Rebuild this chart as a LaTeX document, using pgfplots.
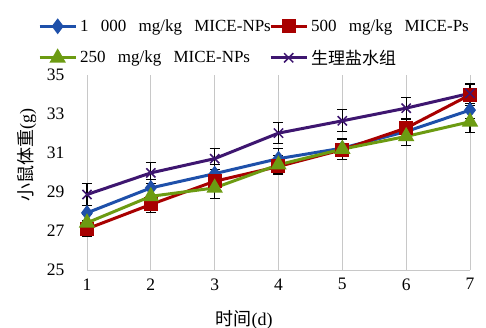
\documentclass[border=0pt]{standalone}
\usepackage{fontspec}
\setmainfont{Liberation Serif}
\newfontfamily\cjk{Noto Sans CJK SC}
\usepackage{pgfplots}
\pgfplotsset{compat=1.18}
\definecolor{cblue}{RGB}{30,80,170}
\definecolor{cred}{RGB}{168,0,0}
\definecolor{cgreen}{RGB}{108,155,18}
\definecolor{cpurple}{RGB}{62,22,112}
\definecolor{cgrid}{RGB}{200,200,200}
\newcommand{\wsp}{\hspace{0.72em}}
\begin{document}
\begin{tikzpicture}
\path[use as bounding box] (-87bp,-58bp) rectangle (399bp,270bp);
\begin{axis}[
  at={(0,0)}, anchor=south west,
  scale only axis, width=383bp, height=195bp,
  xmin=1, xmax=7, ymin=25, ymax=35,
  xtick={1,...,7}, ytick={25,27,...,35},
  axis x line*=bottom, axis y line*=left,
  x axis line style={draw=cgrid, thick, -},
  y axis line style={draw=none},
  xmajorgrids, grid style={cgrid, thick},
  major tick length=0pt,
  clip=false,
  tick label style={font=\fontsize{17.5bp}{20bp}\selectfont},
  yticklabel style={xshift=-19bp},
  xticklabel style={yshift=-5bp},
  /pgf/number format/assume math mode=true,
  xlabel={\cjk 时间\rmfamily(d)},
  xlabel style={font=\fontsize{18bp}{20bp}\selectfont, at={(axis description cs:0.41,0)}, anchor=north, yshift=-37bp},
  ylabel={\cjk 小鼠体重\rmfamily(g)},
  ylabel style={font=\fontsize{18bp}{20bp}\selectfont, at={(axis description cs:-0.157,0.59)}, anchor=center, rotate=0},
  legend columns=2,
  legend style={draw=none, fill=none, anchor=north west, at={(-0.128,1.295)}, inner sep=0pt,
    font=\fontsize{17bp}{20bp}\selectfont, row sep=13bp,
    nodes={text width=186bp, align=left, inner xsep=3bp}},
  legend image code/.code={
    \draw[#1, line width=3bp] (0bp,0bp) -- (36bp,0bp);
    \draw[#1, only marks] plot coordinates {(18bp,0bp)};
  },
  every axis plot/.append style={line width=3bp},
  error bars/error bar style={black, line width=1.1bp, solid},
  error bars/error mark options={rotate=90, mark size=5bp, line width=1.1bp, black},
]
\addplot[cblue, mark=diamond*, mark size=5.5bp, mark options={solid}, error bars/.cd, y dir=both, y explicit]
table[x=x, y=y, y error=e] {
x y e
1 27.93 0.40
2 29.21 0.45
3 29.94 0.45
4 30.71 0.50
5 31.25 0.45
6 32.10 0.45
7 33.20 0.45
};
\addplot[cred, mark=square*, mark size=5.5bp, mark options={solid}, error bars/.cd, y dir=both, y explicit]
table[x=x, y=y, y error=e] {
x y e
1 27.11 0.37
2 28.36 0.40
3 29.55 0.45
4 30.31 0.40
5 31.17 0.50
6 32.28 0.45
7 33.98 0.55
};
\addplot[cgreen, mark=triangle*, mark size=6.5bp, mark options={solid}, error bars/.cd, y dir=both, y explicit]
table[x=x, y=y, y error=e] {
x y e
1 27.42 0.45
2 28.78 0.50
3 29.21 0.56
4 30.40 0.45
5 31.20 0.55
6 31.85 0.45
7 32.60 0.55
};
\addplot[cpurple, mark=x, mark size=6.5bp, mark options={solid, line width=1.5bp}, error bars/.cd, y dir=both, y explicit]
table[x=x, y=y, y error=e] {
x y e
1 28.87 0.56
2 29.98 0.55
3 30.71 0.54
4 32.02 0.55
5 32.65 0.56
6 33.30 0.55
7 34.06 0.52
};
\legend{\mbox{1\wsp 000\wsp mg/kg\wsp MICE-NPs}, \mbox{500\wsp mg/kg\wsp MICE-Ps}, \mbox{250\wsp mg/kg\wsp MICE-NPs}, {\cjk 生理盐水组}}
\end{axis}
\end{tikzpicture}
\end{document}
